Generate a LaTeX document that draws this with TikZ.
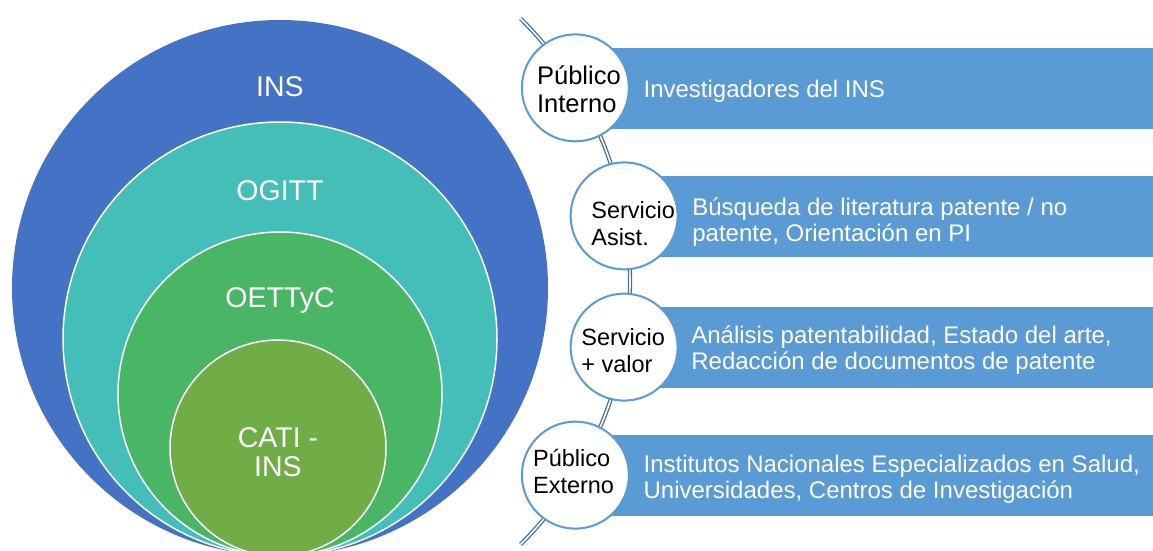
\documentclass[tikz,border=0pt]{standalone}
\usepackage{fontspec}
\setmainfont{Liberation Sans}
\usetikzlibrary{calc}
\definecolor{insblue}{RGB}{68,114,196}
\definecolor{ogitt}{RGB}{68,190,184}
\definecolor{oettyc}{RGB}{72,182,101}
\definecolor{cati}{RGB}{112,173,71}
\definecolor{boxblue}{RGB}{91,155,213}
\definecolor{arcblue}{RGB}{65,113,165}
\begin{document}
\begin{tikzpicture}[x=1pt,y=1pt,
  ring/.style={circle,inner sep=0pt,draw=white,line width=1.5pt},
  bigtxt/.style={text=white,font=\fontsize{28.5}{29}\selectfont,inner sep=0pt,align=center},
  dot/.style={circle,inner sep=0pt,minimum size=107pt,fill=white,draw=boxblue,line width=2pt},
  dottxt/.style={text=black,font=\fontsize{23.5}{27}\selectfont,inner sep=0pt,align=left},
  stripe/.style={rectangle,inner sep=0pt,minimum height=82pt,fill=boxblue,draw=white,line width=0.6pt,anchor=west},
  stripetxt/.style={text=white,font=\fontsize{24}{26}\selectfont,inner sep=0pt,align=left,anchor=west}]
\useasboundingbox (0,0) rectangle (1153,550);
\begin{scope}
\clip (0,0) rectangle (1153,550);
\node[ring,draw=none,fill=insblue,minimum size=536pt] (ins) at (280,262) {};
\node[ring,fill=ogitt,minimum size=434pt] (ogitt) at (280,211) {};
\node[ring,fill=oettyc,minimum size=324pt] (oettyc) at (280,156) {};
\node[ring,fill=cati,minimum size=216pt] (cati) at (278,102) {};
\end{scope}
\node[bigtxt,anchor=base] (lins) at (280,453) {INS};
\node[bigtxt,anchor=base] (logitt) at (280,349.5) {OGITT};
\node[bigtxt,anchor=base] (loettyc) at (280,242.5) {OETTyC};
\node[bigtxt] (lcati) at (278,98) {CATI -\\INS};
% arc connector
\coordinate (arcC) at (259.4,268.5);
\coordinate (arcTop) at ($(arcC)+(45.2:370.6)$);
\draw[arcblue,line width=1.3pt,double=white,double distance=1.6pt]
  (arcTop) arc[start angle=45.2,end angle=-45.2,radius=370.6];
% circle positions on the arc
\coordinate (p1) at ($(arcC)+(31.5:370.6)$);
\coordinate (p2) at ($(arcC)+(10.2:370.6)$);
\coordinate (p3) at ($(arcC)+(-10.2:370.6)$);
\coordinate (p4) at ($(arcC)+(-31.5:370.6)$);
% stripes
\node[stripe,minimum width=577.6pt] (b1) at (p1) {};
\node[stripe,minimum width=528.9pt] (b2) at (p2) {};
\node[stripe,minimum width=528.9pt] (b3) at (p3) {};
\node[stripe,minimum width=577.6pt] (b4) at (p4) {};
% circles
\node[dot] (c1) at (p1) {};
\node[dot] (c2) at (p2) {};
\node[dot] (c3) at (p3) {};
\node[dot] (c4) at (p4) {};
% circle texts
\node[dottxt,anchor=west,font=\fontsize{25.5}{28}\selectfont] (t1) at ($(c1.center)+(-38.5,-1)$) {Público\\Interno};
\node[dottxt,anchor=west] (t2) at ($(c2.center)+(-33,-8)$) {Servicio\\Asist.};
\node[dottxt,anchor=west] (t3) at ($(c3.center)+(-43,-3)$) {Servicio\\+ valor};
\node[dottxt,anchor=west] (t4) at ($(c4.center)+(-42.5,4)$) {Público\\Externo};
% stripe texts
\node[stripetxt] (s1) at ($(c1.center)+(68,-3)$) {Investigadores del INS};
\node[stripetxt] (s2) at ($(c2.center)+(68,-6)$) {Búsqueda de literatura patente / no\\patente, Orientación en PI};
\node[stripetxt] (s3) at ($(c3.center)+(67,-3.5)$) {Análisis patentabilidad, Estado del arte,\\Redacción de documentos de patente};
\node[stripetxt] (s4) at ($(c4.center)+(68,-4)$) {Institutos Nacionales Especializados en Salud,\\Universidades, Centros de Investigación};
\end{tikzpicture}
\end{document}
